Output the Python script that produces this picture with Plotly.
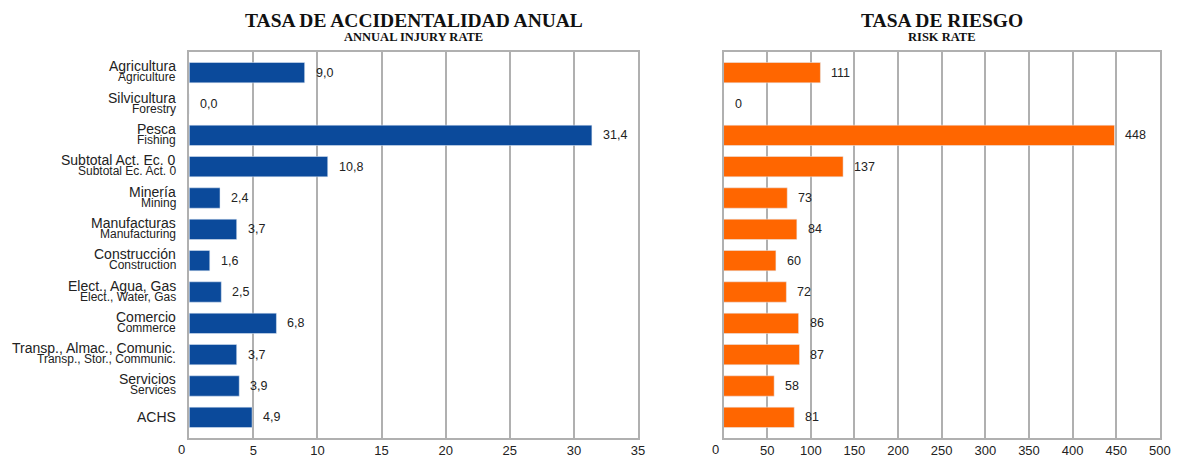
import plotly.graph_objects as go

categories_es = ["Agricultura", "Silvicultura", "Pesca", "Subtotal Act. Ec. 0", "Minería",
                 "Manufacturas", "Construcción", "Elect., Agua, Gas", "Comercio",
                 "Transp., Almac., Comunic.", "Servicios", "ACHS"]
categories_en = ["Agriculture", "Forestry", "Fishing", "Subtotal Ec. Act. 0", "Mining",
                 "Manufacturing", "Construction", "Elect., Water, Gas", "Commerce",
                 "Transp., Stor., Communic.", "Services", ""]
injury_rate = [9.0, 0.0, 31.4, 10.8, 2.4, 3.7, 1.6, 2.5, 6.8, 3.7, 3.9, 4.9]
risk_rate = [111, 0, 448, 137, 73, 84, 60, 72, 86, 87, 58, 81]
left_ticks = [0, 5, 10, 15, 20, 25, 30, 35]
right_ticks = [0, 50, 100, 150, 200, 250, 300, 350, 400, 450, 500]

W, H = 1190, 458
BLUE = "#0b4a9b"
ORANGE = "#ff6600"
GRID = "#b0b0b0"
TXT = "#222222"
SANS = "Liberation Sans, Arial, sans-serif"
SERIF = "Liberation Serif, Times New Roman, serif"

fig = go.Figure()
fig.add_trace(go.Bar(y=categories_es, x=injury_rate, orientation="h", marker_color=BLUE,
                     width=0.65, xaxis="x", yaxis="y", showlegend=False, hoverinfo="x+y"))
fig.add_trace(go.Bar(y=categories_es, x=risk_rate, orientation="h", marker_color=ORANGE,
                     width=0.65, xaxis="x2", yaxis="y2", showlegend=False, hoverinfo="x+y"))

ann = []
# two-line category labels (Spanish / English)
for es, en in zip(categories_es, categories_en):
    if en:
        ann.append(dict(x=0, xref="x domain", y=es, yref="y", text=es, showarrow=False,
                        xanchor="right", yanchor="middle", xshift=-11, yshift=6.5,
                        font=dict(family=SANS, size=14, color=TXT)))
        ann.append(dict(x=0, xref="x domain", y=es, yref="y", text=en, showarrow=False,
                        xanchor="right", yanchor="middle", xshift=-11, yshift=-4.5,
                        font=dict(family=SANS, size=12, color=TXT)))
    else:
        ann.append(dict(x=0, xref="x domain", y=es, yref="y", text=es, showarrow=False,
                        xanchor="right", yanchor="middle", xshift=-11, yshift=0,
                        font=dict(family=SANS, size=14, color=TXT)))
# value labels
for es, v in zip(categories_es, injury_rate):
    ann.append(dict(x=v, xref="x", y=es, yref="y", text=f"{v:.1f}".replace(".", ","),
                    showarrow=False, xanchor="left", yanchor="middle", xshift=9,
                    font=dict(family=SANS, size=12.5, color=TXT)))
for es, v in zip(categories_es, risk_rate):
    ann.append(dict(x=v, xref="x2", y=es, yref="y2", text=f"{v}",
                    showarrow=False, xanchor="left", yanchor="middle", xshift=9,
                    font=dict(family=SANS, size=12.5, color=TXT)))
# zero tick labels (drawn slightly left of the axis, as in the original)
for xr in ["x", "x2"]:
    ann.append(dict(x=0, xref=xr, y=0, yref="paper", text="0", showarrow=False,
                    xanchor="center", yanchor="middle", xshift=-8, yshift=-11.5,
                    font=dict(family=SANS, size=13, color=TXT)))
# titles
for xr, t1, t2 in [("x domain", "TASA DE ACCIDENTALIDAD ANUAL", "ANNUAL INJURY RATE"),
                   ("x2 domain", "TASA DE RIESGO", "RISK RATE")]:
    ann.append(dict(x=0.5, xref=xr, y=1, yref="paper", text=t1, showarrow=False,
                    xanchor="center", yanchor="middle", yshift=32,
                    font=dict(family=SERIF, size=19.5, color="#111111", weight="bold")))
    ann.append(dict(x=0.5, xref=xr, y=1, yref="paper", text=t2, showarrow=False,
                    xanchor="center", yanchor="middle", yshift=15,
                    font=dict(family=SERIF, size=12.5, color="#111111", weight="bold")))

xcommon = dict(showgrid=True, gridcolor=GRID, gridwidth=1.5, showline=True, linecolor=GRID,
               linewidth=1.5, mirror=True, ticks="", zeroline=False,
               tickfont=dict(family=SANS, size=13, color=TXT), fixedrange=True)
ycommon = dict(type="category", categoryorder="array", categoryarray=categories_es,
               range=[11.66, -0.66], showticklabels=False, showgrid=False, showline=True,
               linecolor=GRID, linewidth=1.5, mirror=True, ticks="", zeroline=False,
               fixedrange=True)

fig.update_layout(
    width=W, height=H, autosize=False, paper_bgcolor="white", plot_bgcolor="white",
    margin=dict(l=0, r=0, t=52, b=19, pad=0),
    xaxis=dict(domain=[191 / W, 644 / W], range=[0, 35], tickvals=left_ticks,
               ticktext=[""] + [str(t) for t in left_ticks[1:]], anchor="y", **xcommon),
    yaxis=dict(domain=[0, 1], anchor="x", **ycommon),
    xaxis2=dict(domain=[730.3 / W, 1170.7 / W], range=[0, 500], tickvals=right_ticks,
                ticktext=[""] + [str(t) for t in right_ticks[1:]], anchor="y2", **xcommon),
    yaxis2=dict(domain=[0, 1], anchor="x2", **ycommon),
    annotations=ann,
)

fig.write_html(
    "out.html",
    config={"responsive": False, "displayModeBar": False},
    post_script=("document.documentElement.style.margin='0';"
                 "document.body.style.margin='0';document.body.style.padding='0';"),
)
